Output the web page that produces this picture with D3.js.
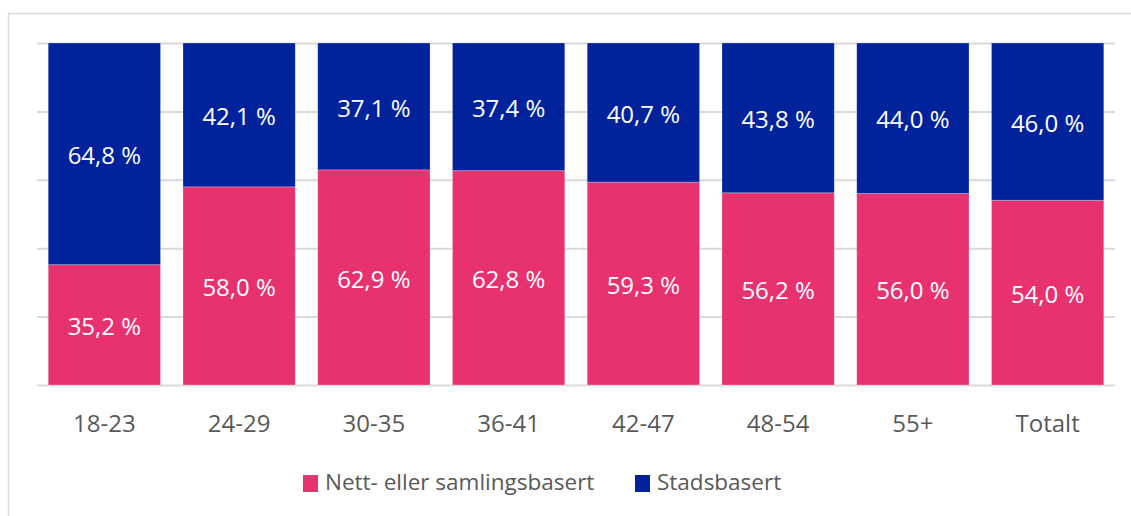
<!DOCTYPE html>
<html>
<head>
<meta charset="utf-8">
<script src="https://cdn.jsdelivr.net/npm/d3@7"></script>
<style>
  body { margin: 0; background: #fff; }
  svg { display: block; font-family: "Open Sans", sans-serif; }
</style>
</head>
<body>
<div id="chart"></div>
<script>
// Age groups along the x axis
var categories = ["18-23", "24-29", "30-35", "36-41", "42-47", "48-54", "55+", "Totalt"];

// Share of each group (percent)
var nettValues = [35.2, 58.0, 62.9, 62.8, 59.3, 56.2, 56.0, 54.0];
var stadValues = [64.8, 42.1, 37.1, 37.4, 40.7, 43.8, 44.0, 46.0];

var seriesNames = ["Nett- eller samlingsbasert", "Stadsbasert"];
var yTicks = [0, 0.2, 0.4, 0.6, 0.8, 1];

var colors = { nett: "#e8316f", stad: "#00239c" };

var width = 1131, height = 516;
var margin = { top: 43, right: 16, bottom: 131, left: 37 };

var svg = d3.select("#chart").append("svg")
    .attr("width", width)
    .attr("height", height);

// outer frame, cut off at the right and bottom
svg.append("rect")
    .attr("x", 8.5).attr("y", 13.5)
    .attr("width", 1200).attr("height", 600)
    .attr("fill", "none")
    .attr("stroke", "#d9d9d9")
    .attr("stroke-width", 1.5);

var rows = categories.map(function(c, i) {
    return { cat: c, nett: nettValues[i], stad: stadValues[i] };
});

var stack = d3.stack()
    .keys(["nett", "stad"])
    .offset(d3.stackOffsetExpand);
var layers = stack(rows);

var x = d3.scaleBand()
    .domain(categories)
    .range([margin.left, width - margin.right])
    .paddingInner(0.1667)
    .paddingOuter(0.0833);

var y = d3.scaleLinear()
    .domain([0, 1])
    .range([height - margin.bottom, margin.top]);

// gridlines
var yAxis = d3.axisLeft(y)
    .tickValues(yTicks)
    .tickSize(-(width - margin.right - margin.left))
    .tickFormat("");

var gy = svg.append("g")
    .attr("transform", "translate(" + margin.left + ",0)")
    .call(yAxis);
gy.select(".domain").remove();
gy.selectAll(".tick line")
    .attr("stroke", "#d9d9d9")
    .attr("stroke-width", 2);

// bars
var g = svg.append("g");
layers.forEach(function(layer) {
    var key = layer.key;
    g.selectAll("rect." + key)
        .data(layer)
        .enter().append("rect")
        .attr("class", key)
        .attr("x", function(d) { return x(d.data.cat); })
        .attr("width", x.bandwidth())
        .attr("y", function(d) { return y(d[1]); })
        .attr("height", function(d) { return y(d[0]) - y(d[1]); })
        .attr("fill", colors[key])
        .attr("stroke", "rgba(255,255,255,0.25)")
        .attr("stroke-width", 1);

    g.selectAll("text." + key)
        .data(layer)
        .enter().append("text")
        .attr("class", key)
        .attr("x", function(d) { return x(d.data.cat) + x.bandwidth() / 2; })
        .attr("y", function(d) { return (y(d[0]) + y(d[1])) / 2; })
        .attr("dy", "0.42em")
        .attr("text-anchor", "middle")
        .attr("fill", "#fff")
        .attr("font-size", 24)
        .text(function(d) { return d3.format(".1f")(d.data[key]).replace(".", ",") + " %"; });
});

// x axis labels
var xAxis = d3.axisBottom(x).tickSize(0);
var gx = svg.append("g")
    .attr("transform", "translate(0," + (height - margin.bottom) + ")")
    .call(xAxis);
gx.select(".domain").remove();
gx.selectAll(".tick text")
    .attr("y", 47)
    .attr("dy", null)
    .attr("font-size", 24)
    .attr("font-family", "Open Sans, sans-serif")
    .attr("fill", "#595959");

// legend
var legendItems = [
    { name: seriesNames[0], color: colors.nett, x: 303 },
    { name: seriesNames[1], color: colors.stad, x: 635 }
];
var legend = svg.append("g");
legendItems.forEach(function(item) {
    legend.append("rect")
        .attr("x", item.x).attr("y", 475)
        .attr("width", 15).attr("height", 17)
        .attr("fill", item.color);
    legend.append("text")
        .attr("x", item.x + 22)
        .attr("y", 490)
        .attr("font-size", 22.5)
        .attr("fill", "#595959")
        .text(item.name);
});
</script>
</body>
</html>
